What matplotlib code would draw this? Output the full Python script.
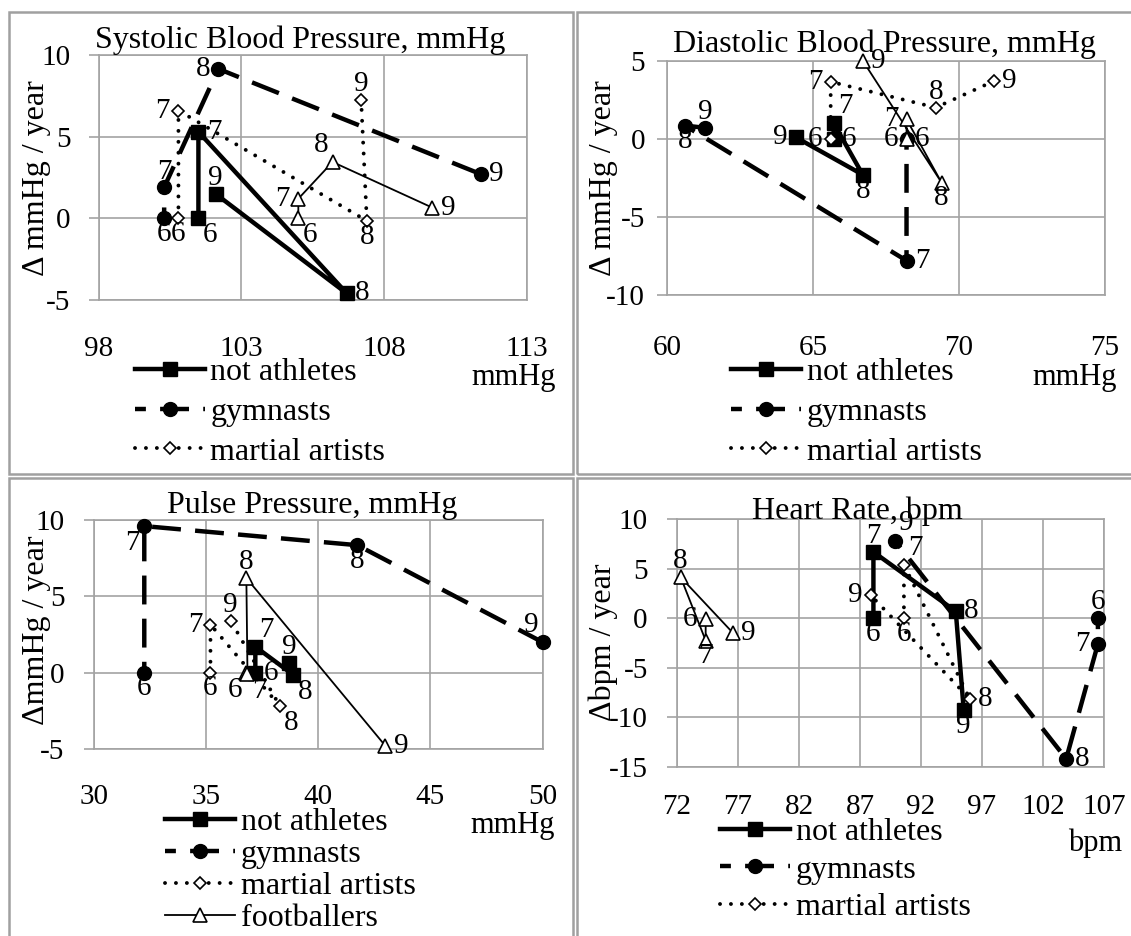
import matplotlib
matplotlib.use('Agg')
import matplotlib.pyplot as plt
from matplotlib.patches import Rectangle

plt.rcParams['font.family'] = ['Liberation Serif', 'DejaVu Serif']
plt.rcParams['axes.unicode_minus'] = False

W, H = 1131, 936

# ---------------- data ----------------
groups = ['not athletes', 'gymnasts', 'martial artists', 'footballers']
ages = ['6', '7', '8', '9']

# Systolic Blood Pressure (x: mmHg, y: delta mmHg/year)
sys_not_x = [101.5, 101.5, 106.7, 102.1]
sys_not_y = [0.0, 5.3, -4.6, 1.5]
sys_gym_x = [100.3, 100.3, 102.2, 111.4]
sys_gym_y = [0.0, 1.9, 9.15, 2.7]
sys_mar_x = [100.8, 100.8, 107.4, 107.2]
sys_mar_y = [0.0, 6.6, -0.15, 7.25]
sys_fb_x = [105.0, 105.0, 106.2, 109.7]
sys_fb_y = [0.0, 1.2, 3.45, 0.65]

# Diastolic Blood Pressure
dia_not_x = [65.7, 65.7, 66.7, 64.4]
dia_not_y = [0.0, 1.0, -2.3, 0.1]
dia_gym_x = [68.2, 68.2, 60.6, 61.3]
dia_gym_y = [0.0, -7.8, 0.85, 0.7]
dia_mar_x = [65.6, 65.6, 69.2, 71.2]
dia_mar_y = [0.0, 3.65, 2.0, 3.7]
dia_fb_x = [68.2, 68.2, 69.4, 66.7]
dia_fb_y = [0.0, 1.25, -2.8, 5.0]

# Pulse Pressure
pp_not_x = [37.2, 37.2, 38.9, 38.7]
pp_not_y = [0.0, 1.7, -0.15, 0.65]
pp_gym_x = [32.25, 32.25, 41.75, 50.0]
pp_gym_y = [0.0, 9.6, 8.35, 2.0]
pp_mar_x = [35.2, 35.2, 38.3, 36.1]
pp_mar_y = [0.0, 3.15, -2.2, 3.4]
pp_fb_x = [36.8, 36.85, 36.8, 43.0]
pp_fb_y = [0.0, -0.1, 6.2, -4.8]

# Heart Rate (x: bpm, y: delta bpm/year)
hr_not_x = [88.1, 88.1, 94.85, 95.5]
hr_not_y = [0.0, 6.7, 0.7, -9.25]
hr_gym_x = [106.5, 106.5, 103.9, 89.85]
hr_gym_y = [0.0, -2.6, -14.2, 7.85]
hr_mar_x = [90.6, 90.6, 96.0, 87.9]
hr_mar_y = [0.0, 5.4, -8.15, 2.3]
hr_fb_x = [74.35, 74.35, 72.3, 76.6]
hr_fb_y = [-0.05, -2.25, 4.15, -1.5]

sys_xticks = [98, 103, 108, 113]
sys_yticks = [-5, 0, 5, 10]
dia_xticks = [60, 65, 70, 75]
dia_yticks = [-10, -5, 0, 5]
pp_xticks = [30, 35, 40, 45, 50]
pp_yticks = [-5, 0, 5, 10]
hr_xticks = [72, 77, 82, 87, 92, 97, 102, 107]
hr_yticks = [-15, -10, -5, 0, 5, 10]

# ---------------- styles ----------------
GRID = '#a3a3a3'
BORDER = '#a0a0a0'
styles = [
    dict(color='black', lw=3.2, ls='-', marker='s', ms=10, mfc='black', mec='black'),
    dict(color='black', lw=3.2, ls=(4.05, (6.5, 3.2)), marker='o', ms=10, mfc='black', mec='black'),
    dict(color='black', lw=2.8, ls=(0, (0.01, 2.8)), marker='D', ms=6, mfc='white', mec='black', mew=1.2,
         dash_capstyle='round'),
    dict(color='black', lw=1.3, ls='-', marker='^', ms=10, mfc='white', mec='black', mew=1.2),
]

OFF = {
    'l': (-6, 0, 'right', 'center'), 'r': (6, 0, 'left', 'center'),
    'a': (0, 2, 'center', 'bottom'), 'b': (0, -2, 'center', 'top'),
    'al': (-3, 3, 'right', 'bottom'), 'ar': (3, 3, 'left', 'bottom'),
    'bl': (-3, -3, 'right', 'top'), 'br': (3, -3, 'left', 'top'),
}


def px_rect(left, top, right, bottom):
    return [left / W, 1 - bottom / H, (right - left) / W, (bottom - top) / H]


panels = [
    dict(rect=(98.5, 55, 526.7, 300),
         series=[(sys_not_x, sys_not_y), (sys_gym_x, sys_gym_y), (sys_mar_x, sys_mar_y), (sys_fb_x, sys_fb_y)],
         labpos=[['br', 'r', 'r', 'a'], ['b', 'a', 'l', 'r'], ['b', 'l', 'b', 'a'], ['br', 'l', 'al', 'r']],
         xticks=sys_xticks, yticks=sys_yticks, title='Systolic Blood Pressure, mmHg', title_xy=(300, 48),
         ylabel='Δ mmHg / year', ylab_xy=(37, 178), unit='mmHg', unit_xy=(556, 378),
         ytpad=13, xtpad=26, leg_xy=(134.5, 358), leg_n=3, leg_sp=0.32),
    dict(rect=(667.3, 60.7, 1104.9, 295),
         series=[(dia_not_x, dia_not_y), (dia_gym_x, dia_gym_y), (dia_mar_x, dia_mar_y), (dia_fb_x, dia_fb_y)],
         labpos=[['r', 'ar', 'b', 'l'], ['l', 'r', 'b', 'a'], ['l', 'l', 'a', 'r'], ['r', 'l', 'b', 'r']],
         xticks=dia_xticks, yticks=dia_yticks, title='Diastolic Blood Pressure, mmHg', title_xy=(884, 52),
         ylabel='Δ mmHg / year', ylab_xy=(603, 178), unit='mmHg', unit_xy=(1117, 378),
         ytpad=9, xtpad=29, leg_xy=(731, 358), leg_n=3, leg_sp=0.32),
    dict(rect=(93.8, 520, 542.5, 749),
         series=[(pp_not_x, pp_not_y), (pp_gym_x, pp_gym_y), (pp_mar_x, pp_mar_y), (pp_fb_x, pp_fb_y)],
         labpos=[['r', 'ar', 'br', 'a'], ['b', 'bl', 'b', 'al'], ['b', 'l', 'br', 'a'], ['bl', 'br', 'a', 'r']],
         xticks=pp_xticks, yticks=pp_yticks, title='Pulse Pressure, mmHg', title_xy=(312, 513),
         ylabel='ΔmmHg / year', ylab_xy=(37, 630), unit='mmHg', unit_xy=(555, 826),
         ytpad=14, xtpad=25, leg_xy=(165, 808), leg_n=4, leg_sp=0.08),
    dict(rect=(677, 519.3, 1104, 766.7),
         series=[(hr_not_x, hr_not_y), (hr_gym_x, hr_gym_y), (hr_mar_x, hr_mar_y), (hr_fb_x, hr_fb_y)],
         labpos=[['b', 'a', 'r', 'b'], ['a', 'l', 'r', 'ar'], ['b', 'ar', 'r', 'l'], ['l', 'b', 'a', 'r']],
         xticks=hr_xticks, yticks=hr_yticks, title='Heart Rate, bpm', title_xy=(857, 519),
         ylabel='Δbpm / year', ylab_xy=(603, 642), unit='bpm', unit_xy=(1122, 843),
         ytpad=14, xtpad=20, leg_xy=(720, 818), leg_n=3, leg_sp=0.245),
]

fig = plt.figure(figsize=(W / 100, H / 100), dpi=100)

# panel borders
for (l, t, r, b) in [(9, 12, 573, 474), (577, 12, 1140, 474), (9, 478, 573, 945), (577, 478, 1140, 945)]:
    fig.patches.append(Rectangle((l / W, 1 - b / H), (r - l) / W, (b - t) / H, transform=fig.transFigure,
                                 fill=False, edgecolor=BORDER, lw=1.8, zorder=0))

for p in panels:
    ax = fig.add_axes(px_rect(*p['rect']))
    ax.set_xlim(p['xticks'][0], p['xticks'][-1])
    ax.set_ylim(p['yticks'][0], p['yticks'][-1])
    ax.set_xticks(p['xticks'])
    ax.set_yticks(p['yticks'])
    ax.grid(True, color=GRID, lw=1.2)
    ax.set_axisbelow(True)
    for s in ax.spines.values():
        s.set_color(GRID)
        s.set_linewidth(1.2)
    ax.tick_params(axis='y', length=7, width=1.2, color=GRID, pad=p['ytpad'], labelsize=21)
    ax.tick_params(axis='x', length=0, pad=p['xtpad'], labelsize=21)
    ax.set_facecolor('none')

    handles = []
    for gi, ((xs, ys), st) in enumerate(zip(p['series'], styles)):
        ln, = ax.plot(xs, ys, clip_on=False, zorder=3 + gi, label=groups[gi], **st)
        handles.append(ln)
        for ai, (x, y) in enumerate(zip(xs, ys)):
            dx, dy, ha, va = OFF[p['labpos'][gi][ai]]
            ax.annotate(ages[ai], (x, y), xytext=(dx, dy), textcoords='offset points',
                        ha=ha, va=va, fontsize=21, annotation_clip=False, zorder=10)

    lx, ly = p['leg_xy']
    ax.legend(handles=handles[:p['leg_n']], loc='upper left',
              bbox_to_anchor=(lx / W, 1 - ly / H), bbox_transform=fig.transFigure,
              frameon=False, borderpad=0, borderaxespad=0, handlelength=2.2,
              handletextpad=0.17, labelspacing=p['leg_sp'], fontsize=23, numpoints=1)

    tx, ty = p['title_xy']
    fig.text(tx / W, 1 - ty / H, p['title'], ha='center', va='baseline', fontsize=23)
    yx, yy = p['ylab_xy']
    fig.text(yx / W, 1 - yy / H, p['ylabel'], ha='center', va='center', rotation=90, fontsize=23)
    ux, uy = p['unit_xy']
    fig.text(ux / W, 1 - uy / H, p['unit'], ha='right', va='center', fontsize=22)

fig.savefig('out.png', dpi=100, facecolor='white')
